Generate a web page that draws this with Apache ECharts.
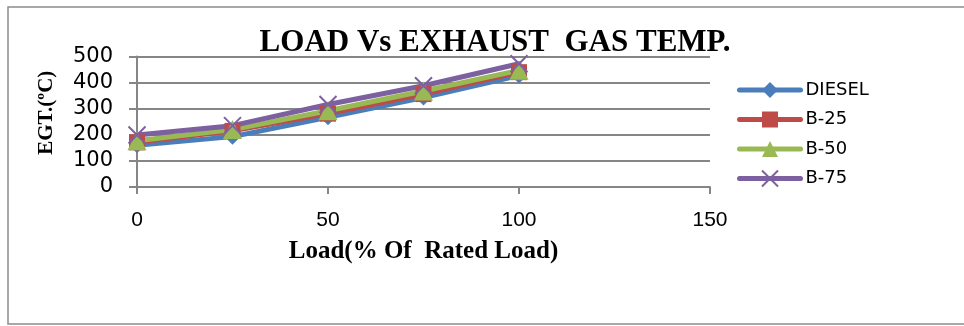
<!DOCTYPE html>
<html>
<head>
<meta charset="utf-8">
<script src="https://cdn.jsdelivr.net/npm/echarts@6/dist/echarts.min.js"></script>
<style>
  html, body { margin: 0; padding: 0; background: #fff; }
  #chart { width: 964px; height: 326px; }
</style>
</head>
<body>
<div id="chart"></div>
<script>
// Engine load (% of rated load) and exhaust gas temperature per fuel blend
const loads = [0, 25, 50, 75, 100];
const diesel = [160, 193, 267, 343, 427];
const b25 = [171, 215, 281, 356, 440];
const b50 = [177, 220, 292, 368, 447];
const b75 = [199, 235, 316, 388, 472];
const seriesNames = ['DIESEL', 'B-25', 'B-50', 'B-75'];
const xTicks = [0, 50, 100, 150];
const yTicks = [0, 100, 200, 300, 400, 500];

const colors = ['#4A7EBB', '#BE4B48', '#98B954', '#7D60A0'];
const symbols = ['diamond', 'rect', 'triangle', 'path://M0,0L10,10M10,0L0,10'];
const symbolSizes = [16, 16, 19, 17];
const values = [diesel, b25, b50, b75];

const chart = echarts.init(document.getElementById('chart'));

const series = seriesNames.map((name, i) => ({
  name: name,
  type: 'line',
  data: loads.map((x, j) => [x, values[i][j]]),
  symbol: symbols[i],
  symbolSize: symbolSizes[i],
  lineStyle: { width: 5, color: colors[i], cap: 'round', join: 'round' },
  itemStyle: i === 3
    ? { color: 'transparent', borderColor: colors[i], borderWidth: 2 }
    : { color: colors[i], borderWidth: 0 },
  emphasis: { disabled: true },
  animation: false
}));

chart.setOption({
  animation: false,
  backgroundColor: '#fff',
  title: {
    text: 'LOAD Vs EXHAUST  GAS TEMP.',
    left: 490,
    top: 22,
    textAlign: 'center',
    textStyle: {
      fontFamily: 'Liberation Serif',
      fontWeight: 'bold',
      fontSize: 31,
      color: '#000'
    }
  },
  graphic: [{
    type: 'rect',
    shape: { x: 8, y: 7, width: 970, height: 317 },
    style: { fill: 'none', stroke: '#8c8c8c', lineWidth: 1.5 },
    silent: true
  }],
  legend: {
    orient: 'vertical',
    left: 732,
    top: 76,
    itemWidth: 61,
    itemHeight: 20,
    itemGap: 11.5,
    data: seriesNames,
    lineStyle: { width: 5, cap: 'round' },
    textStyle: { fontFamily: 'DejaVu Sans', fontSize: 18, color: '#000' }
  },
  grid: {
    left: 137,
    right: 254,
    top: 56.5,
    bottom: 139,
    containLabel: false
  },
  xAxis: {
    type: 'value',
    min: xTicks[0],
    max: xTicks[xTicks.length - 1],
    interval: 50,
    name: 'Load(% Of  Rated Load)',
    nameLocation: 'middle',
    nameGap: 52,
    nameTextStyle: {
      fontFamily: 'Liberation Serif',
      fontWeight: 'bold',
      fontSize: 25,
      color: '#000'
    },
    axisLine: { show: true, lineStyle: { color: '#868686', width: 2 } },
    axisTick: { show: true, length: 7, lineStyle: { color: '#868686', width: 2 } },
    splitLine: { show: false },
    axisLabel: {
      margin: 23,
      fontFamily: 'Liberation Sans',
      fontSize: 21,
      color: '#000',
      formatter: v => xTicks.includes(v) ? String(v) : ''
    }
  },
  yAxis: {
    type: 'value',
    min: yTicks[0],
    max: yTicks[yTicks.length - 1],
    interval: 100,
    name: 'EGT.(ºC)',
    nameLocation: 'middle',
    nameGap: 80,
    nameTextStyle: {
      fontFamily: 'Liberation Serif',
      fontWeight: 'bold',
      fontSize: 21,
      color: '#000',
      padding: [0, 0, 0, 18]
    },
    axisLine: { show: true, lineStyle: { color: '#868686', width: 2 } },
    axisTick: { show: true, length: 8, lineStyle: { color: '#868686', width: 2 } },
    splitLine: { show: true, lineStyle: { color: '#868686', width: 2 } },
    axisLabel: {
      margin: 24,
      fontFamily: 'DejaVu Sans',
      fontSize: 21,
      color: '#000'
    }
  },
  series: series
});
</script>
</body>
</html>
